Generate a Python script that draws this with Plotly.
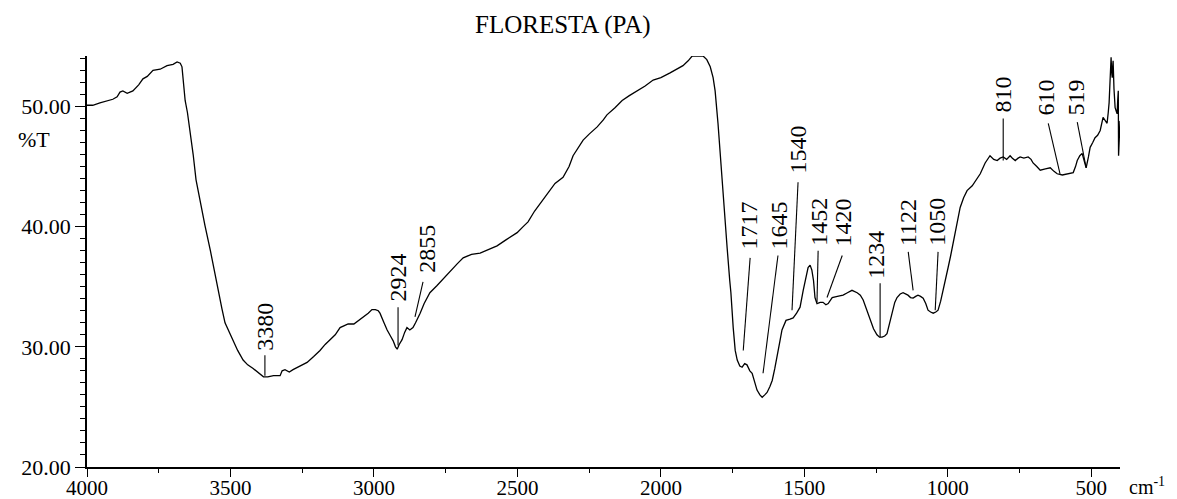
import plotly.graph_objects as go

# FTIR spectrum
wavenumber = [
    4000, 3980, 3955, 3930, 3910, 3895, 3885, 3875, 3860, 3840, 3820, 3805, 3790, 3770,
    3745, 3721, 3700, 3686, 3675, 3669, 3662, 3658, 3650, 3641, 3630, 3620, 3605, 3589,
    3570, 3560, 3547, 3530, 3519, 3505, 3491, 3475, 3456, 3440, 3421, 3400, 3385, 3370,
    3350, 3327, 3320, 3310, 3295, 3282, 3260, 3233, 3210, 3188, 3170, 3153, 3135, 3118,
    3090, 3070, 3059, 3040, 3020, 3007, 2995, 2985, 2979, 2965, 2954, 2940, 2933, 2925,
    2919, 2912, 2902, 2893, 2885, 2875, 2864, 2855, 2845, 2839, 2825, 2805, 2780, 2750,
    2728, 2710, 2689, 2660, 2630, 2600, 2571, 2540, 2501, 2480, 2463, 2440, 2410, 2390,
    2369, 2341, 2320, 2306, 2290, 2271, 2250, 2222, 2200, 2188, 2160, 2135, 2110, 2083,
    2055, 2027, 2000, 1968, 1945, 1923, 1905, 1891, 1870, 1853, 1840, 1828, 1818, 1811,
    1801, 1792, 1783, 1776, 1769, 1760, 1756, 1748, 1741, 1734, 1725, 1717, 1708, 1700,
    1690, 1682, 1673, 1665, 1655, 1647, 1638, 1630, 1620, 1612, 1603, 1595, 1585, 1578,
    1564, 1550, 1539, 1527, 1515, 1504, 1495, 1487, 1480, 1474, 1468, 1463, 1456, 1445,
    1435, 1425, 1417, 1403, 1385, 1365, 1350, 1334, 1316, 1305, 1295, 1283, 1271, 1259,
    1247, 1238, 1229, 1220, 1212, 1203, 1194, 1185, 1177, 1166, 1156, 1147, 1139, 1130,
    1121, 1112, 1104, 1095, 1086, 1077, 1069, 1060, 1051, 1042, 1034, 1025, 1016, 1008,
    999, 990, 982, 970, 957, 945, 933, 915, 900, 887, 870, 853, 840, 828, 818, 807, 795,
    783, 775, 765, 755, 748, 735, 720, 710, 703, 690, 678, 660, 643, 630, 619, 601, 585,
    563, 555, 549, 540, 532, 525, 518, 510, 504, 495, 487, 478, 469, 459, 452, 445, 441,
    438, 434, 431, 429, 427, 425, 424, 421, 417, 413, 410, 408, 406, 405, 403, 400,
]
transmittance = [
    50.1, 50.1, 50.3, 50.5, 50.6, 50.8, 51.2, 51.3, 51.1, 51.3, 51.8, 52.3, 52.5, 53.0,
    53.1, 53.4, 53.5, 53.7, 53.6, 53.3, 51.5, 50.5, 49.5, 48.0, 46.0, 43.9, 42.0, 40.1,
    38.0, 36.8, 35.0, 33.2, 32.0, 31.3, 30.6, 29.7, 28.9, 28.5, 28.2, 27.8, 27.5, 27.5,
    27.6, 27.6, 28.0, 28.1, 27.9, 28.1, 28.4, 28.7, 29.2, 29.7, 30.2, 30.6, 31.0, 31.6,
    31.9, 31.9, 32.1, 32.4, 32.8, 33.1, 33.1, 33.0, 32.8, 32.0, 31.4, 30.8, 30.5, 30.0,
    29.8, 30.2, 30.6, 31.2, 31.6, 31.4, 31.6, 32.0, 32.6, 32.8, 33.6, 34.5, 35.1, 35.9,
    36.5, 36.9, 37.4, 37.7, 37.8, 38.1, 38.4, 38.9, 39.5, 40.0, 40.4, 41.3, 42.3, 43.0,
    43.6, 44.1, 45.0, 45.9, 46.5, 47.2, 47.7, 48.3, 48.9, 49.3, 49.9, 50.5, 50.9, 51.3,
    51.7, 52.2, 52.4, 52.8, 53.1, 53.4, 53.8, 54.2, 54.2, 54.2, 53.9, 53.3, 52.4, 51.3,
    48.6, 45.5, 42.8, 40.5, 38.2, 35.5, 34.5, 31.6, 29.7, 28.9, 28.4, 28.3, 28.6, 28.5,
    28.0, 27.8, 27.1, 26.4, 26.0, 25.8, 26.0, 26.2, 26.7, 27.2, 28.2, 29.1, 30.5, 31.4,
    32.2, 32.3, 32.4, 32.8, 33.3, 34.7, 35.6, 36.6, 36.8, 36.4, 35.5, 34.1, 33.6, 33.7,
    33.7, 33.5, 33.6, 34.1, 34.2, 34.3, 34.5, 34.7, 34.5, 34.3, 33.9, 33.1, 32.2, 31.5,
    31.0, 30.8, 30.8, 30.9, 31.1, 32.0, 33.05, 33.7, 34.1, 34.4, 34.5, 34.4, 34.3, 34.1,
    34.05, 34.2, 34.3, 34.2, 34.05, 33.6, 33.05, 32.9, 32.8, 32.9, 33.05, 33.8, 34.7, 35.6,
    36.6, 37.6, 38.6, 40.1, 41.6, 42.4, 43.0, 43.4, 44.0, 44.4, 45.3, 45.9, 45.6, 45.5,
    45.7, 45.8, 45.6, 45.9, 45.7, 45.5, 45.7, 45.8, 45.7, 45.8, 45.6, 45.3, 45.0, 44.7,
    44.8, 44.9, 44.6, 44.4, 44.3, 44.4, 44.5, 45.0, 45.5, 45.9, 46.1, 45.5, 44.9, 45.8,
    46.6, 47.0, 47.4, 47.6, 48.0, 49.1, 48.8, 48.6, 49.5, 50.3, 52.5, 54.1, 52.8, 52.4,
    53.5, 53.8, 51.5, 49.9, 49.6, 49.4, 50.5, 51.3, 45.9, 48.0, 48.8,
]

# peak labels: text, text position (wavenumber, %T at text bottom),
# leader line from (line_top_x, line_top_y) to (line_end_x, line_end_y)
peak_labels = ["3380", "2924", "2855", "1717", "1645", "1540", "1452", "1420",
               "1234", "1122", "1050", "810", "610", "519"]
label_x = [3380, 2916, 2815, 1694, 1590, 1524, 1447, 1365, 1250, 1138, 1036, 809, 657, 553]
label_y = [29.5, 33.6, 36.0, 37.9, 37.9, 44.3, 38.2, 38.2, 35.5, 38.2, 38.2, 49.3, 49.1, 49.1]
line_top_x = [3380, 2916, 2829, 1689, 1592, 1522, 1452, 1368, 1236, 1138, 1034, 807, 650, 549]
line_top_y = [29.3, 33.3, 35.4, 37.4, 37.6, 43.7, 38.0, 37.6, 35.3, 37.9, 37.9, 49.0, 48.6, 48.7]
line_end_x = [3380, 2916, 2857, 1713, 1644, 1543, 1456, 1421, 1236, 1121, 1044, 807, 609, 518]
line_end_y = [27.6, 30.1, 32.5, 29.7, 27.8, 33.05, 33.7, 34.1, 30.8, 34.7, 33.05, 45.5, 44.4, 44.9]

x_ticks = [4000, 3500, 3000, 2500, 2000, 1500, 1000, 500]
y_ticks = [20, 30, 40, 50]
y_tick_text = ["20.00", "30.00", "40.00", "50.00"]

SERIF = "Liberation Serif, Times New Roman, serif"

# the page body adds an 8px margin, so the figure is drawn 8px smaller
OFF = 8
W, H = 1177 - OFF, 499 - OFF
ML, MR, MT, MB = 87 - OFF, 57, 56 - OFF, 32
PW, PH = W - ML - MR, H - MT - MB


def px_to_paper(px, py):
    # px, py are positions in the screenshot
    return (px - OFF - ML) / PW, (H - MB - (py - OFF)) / PH


fig = go.Figure()

fig.add_trace(go.Scatter(
    x=wavenumber, y=transmittance, mode="lines",
    line=dict(color="black", width=1.3), hoverinfo="skip",
))

lx, ly = [], []
for x0, y0, x1, y1 in zip(line_top_x, line_top_y, line_end_x, line_end_y):
    lx += [x0, x1, None]
    ly += [y0, y1, None]
fig.add_trace(go.Scatter(
    x=lx, y=ly, mode="lines", line=dict(color="black", width=1.1), hoverinfo="skip",
))

for txt, x, y in zip(peak_labels, label_x, label_y):
    fig.add_annotation(
        x=x, y=y, text=txt, textangle=-90, showarrow=False,
        xanchor="center", yanchor="bottom",
        font=dict(family=SERIF, size=24, color="black"),
    )

tx, ty = px_to_paper(563, 25)
fig.add_annotation(
    x=tx, y=ty, xref="paper", yref="paper", text="FLORESTA (PA)", showarrow=False,
    xanchor="center", yanchor="middle",
    font=dict(family=SERIF, size=25, color="black"),
)
tx, ty = px_to_paper(16, 139)
fig.add_annotation(
    x=tx, y=ty, xref="paper", yref="paper", text="%T", showarrow=False,
    xanchor="left", yanchor="middle", font=dict(family=SERIF, size=22, color="black"),
)
tx, ty = px_to_paper(1127, 486)
fig.add_annotation(
    x=tx, y=ty, xref="paper", yref="paper", text="cm<sup>-1</sup>",
    showarrow=False, xanchor="left", yanchor="middle",
    font=dict(family=SERIF, size=20, color="black"),
)

fig.update_layout(
    width=W, height=H,
    margin=dict(l=ML, r=MR, t=MT, b=MB, autoexpand=False),
    paper_bgcolor="white", plot_bgcolor="white",
    showlegend=False,
    font=dict(family=SERIF, color="black"),
    xaxis=dict(
        range=[4000, 400], tickvals=x_ticks, ticks="outside", ticklen=8, tickwidth=1.3,
        tickcolor="black", showline=True, linecolor="black", linewidth=1.5,
        showgrid=False, zeroline=False, tickfont=dict(size=21, family=SERIF),
        automargin=False, ticklabelstandoff=-7,
        minor=dict(tick0=0, dtick=250, ticks="outside", ticklen=4, tickcolor="black"),
    ),
    yaxis=dict(
        range=[20, 54.2], tickvals=y_ticks, ticktext=y_tick_text, ticks="outside",
        ticklen=10, tickwidth=1.3, tickcolor="black", showline=True, linecolor="black",
        linewidth=1.5, showgrid=False, zeroline=False, tickfont=dict(size=22, family=SERIF),
        automargin=False,
        minor=dict(tick0=0, dtick=1, ticks="outside", ticklen=5, tickcolor="black"),
    ),
)

fig.write_html("out.html")
